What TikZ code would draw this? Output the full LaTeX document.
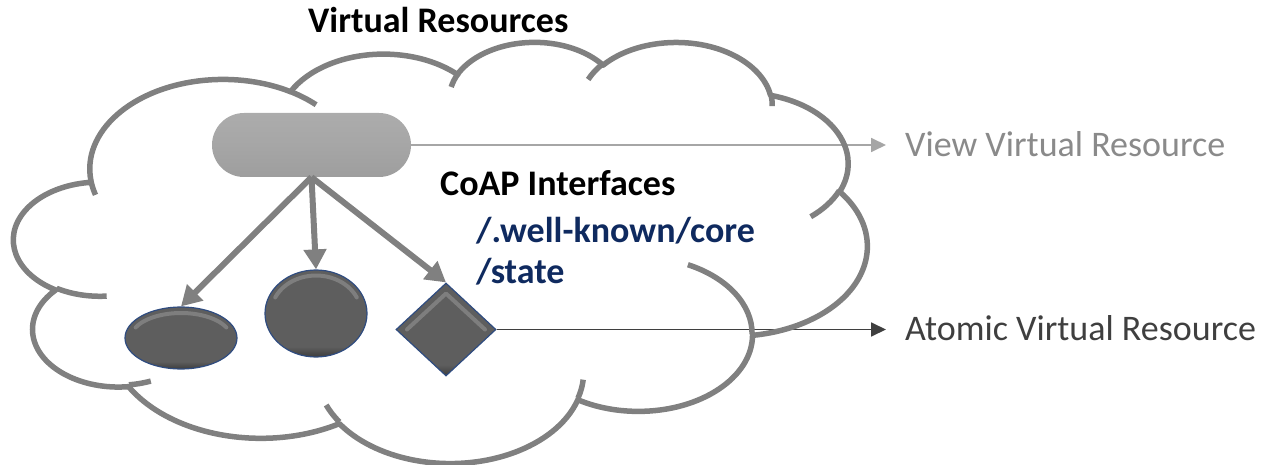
\documentclass[tikz,border=0pt]{standalone}
\usepackage{fontspec}
\setmainfont{Carlito}
\usetikzlibrary{arrows.meta,shapes.geometric}

\definecolor{cloudgray}{HTML}{808080}
\definecolor{pilltop}{HTML}{ACACAC}
\definecolor{pillmid}{HTML}{A6A6A6}
\definecolor{pillbot}{HTML}{9E9E9E}
\definecolor{bodyrim}{HTML}{3C3C3C}
\definecolor{bodymid}{HTML}{5E5E5E}
\definecolor{bodyhi}{HTML}{7E7E7E}
\definecolor{bodyedge}{HTML}{2F4C80}
\definecolor{navytext}{HTML}{0F2A5F}
\definecolor{viewgray}{HTML}{8A8A8A}
\definecolor{atomgray}{HTML}{3F3F3F}
\definecolor{viewline}{HTML}{A6A6A6}
\definecolor{arrowgray}{HTML}{808080}

% dark body: darker lower rim, flat above
\pgfdeclareverticalshading{bevelbody}{100bp}{%
  color(0bp)=(bodyrim); color(25bp)=(bodyrim); color(31bp)=(bodymid);
  color(75bp)=(bodymid); color(100bp)=(bodymid)}

% ray angle on an ellipse -> parametric angle, unwrapped next to the ray angle
\newcommand\vang[3]{atan2((#1)*sin(#3),(#2)*cos(#3))+360*round(((#3)-atan2((#1)*sin(#3),(#2)*cos(#3)))/360)}
% elliptic arc: x radius, y radius, start ray angle, sweep
\newcommand\carc[4]{arc[start angle={\vang{#1}{#2}{#3}}, end angle={\vang{#1}{#2}{(#3)+(#4)}}, x radius=#1, y radius=#2]}

\tikzset{
  cloudline/.style={draw=cloudgray, line width=5.5pt, line join=round},
  pillbox/.style={rectangle, rounded corners=32pt, minimum width=199pt, minimum height=64pt,
    inner sep=0pt, top color=pilltop, bottom color=pillbot, middle color=pillmid},
  bodyshape/.style={inner sep=0pt, draw=bodyedge, line width=1.2pt, shading=bevelbody},
  % soft bevel arc under the top edge of a rounded body
  roundglint/.style 2 args={path picture={
    \draw[bodyhi, line width=4pt, line cap=round]
      ([shift={(205:#1 and #2)}]path picture bounding box.center)
      arc[start angle=205, end angle=335, x radius=#1, y radius=#2];}},
  % soft bevel along the two upper edges of the diamond
  diaglint/.style 2 args={path picture={
    \draw[bodyhi, line width=4pt, line cap=round, line join=round]
      ([shift={(-#1+5,0)}]path picture bounding box.center)
      -- ([shift={(0,-#2+5)}]path picture bounding box.center)
      -- ([shift={(#1-5,0)}]path picture bounding box.center);}},
  fatarrow/.style={draw=arrowgray, line width=6pt, -{Triangle[length=20pt,width=22pt]}},
  thinarrow/.style={line width=1.8pt, -{Triangle[length=15pt,width=14pt]}},
  lbl/.style={inner sep=0pt, anchor=base west, font=\fontsize{36}{42}\selectfont},
  blbl/.style={inner sep=0pt, anchor=base west, font=\fontsize{36}{42}\selectfont\bfseries},
}

\begin{document}
\begin{tikzpicture}[x=1pt, y=-1pt]
\useasboundingbox (0,0) rectangle (1265,465);

% link lines out of the cloud (drawn first, the cloud outline lies on top)
\coordinate (viewtip) at (886,146);
\coordinate (atomtip) at (886,330);
\node[pillbox] (view) at (311.5,145) {};
\node[bodyshape, ellipse, minimum width=112pt, minimum height=62pt, roundglint={50}{25}] (ell) at (181,338) {};
\node[bodyshape, ellipse, minimum width=102pt, minimum height=87pt, roundglint={45}{38}] (circ) at (316,313.5) {};
\node[bodyshape, diamond, minimum width=100pt, minimum height=93pt, diaglint={44}{41}] (dia) at (446,329.5) {};

\draw[thinarrow, viewline] (view.east) -- (view.east -| viewtip);
\draw[thinarrow, atomgray] (dia.east) -- (dia.east -| atomtip);

% cloud outline (eleven elliptic lobes) and its inner tails
\begin{scope}[shift={(14pt,-41pt)}, x=1.97454pt, y=-0.97454pt]
\draw[cloudline] (39.00,143.70)
  \carc{67.53}{91.90}{-190.48748}{123.78053}
  \carc{53.33}{72.67}{-144.10238}{89.94523}
  \carc{43.65}{59.45}{-145.80792}{99.72302}
  \carc{48.57}{65.95}{-130.98607}{117.24173}
  \carc{53.33}{72.73}{-78.70888}{109.02692}
  \carc{67.75}{92.20}{-46.26725}{130.26900}
  \carc{57.85}{78.67}{0.62502}{114.03333}
  \carc{67.52}{92.15}{22.45160}{115.17255}
  \carc{77.20}{105.43}{66.24263}{75.71102}
  \carc{43.60}{59.18}{-274.94208}{146.73557}
  \carc{43.45}{59.45}{-246.82850}{152.51885}
  -- cycle;
\draw[cloudline]
  (46.93,261.77) \carc{43.45}{59.45}{86.74200}{26.42950}
  (69.28,348.99) \carc{43.60}{59.18}{73.61047}{11.44747}
  (164.78,390.90) \carc{67.52}{92.15}{137.62415}{14.08110}
  (288.27,347.51) \carc{67.52}{92.15}{6.45327}{15.99835}
  (341.29,229.54) \carc{57.85}{78.67}{-70.29235}{70.91737}
  (417.98,153.54) \carc{53.33}{72.73}{30.31803}{27.75150}
  (383.24,54.26) \carc{48.57}{65.95}{-13.74433}{14.85890}
  (290.78,39.52) \carc{48.57}{65.95}{-149.18145}{18.19537}
  (221.41,47.20) \carc{43.65}{59.45}{-163.49427}{17.68635}
  (140.00,51.92) \carc{67.53}{91.90}{-66.70695}{12.31935}
  (41.27,157.89) \carc{67.53}{91.90}{157.65435}{11.85817};
\end{scope}

% view resource and its atomic parts
\draw[fatarrow] (view.south) -- (ell.north);
\draw[fatarrow] (view.south) -- (circ.north);
\draw[fatarrow] (view.south) -- (dia.north);

% labels
\node[blbl] (title) at (308,33) {Virtual Resources};
\node[blbl] (coap) at (440,195) {CoAP Interfaces};
\node[blbl, text=navytext] (wellknown) at (476,242) {/.well-known/core};
\node[blbl, text=navytext] (state) at (476,283) {/state};
\node[lbl, text=viewgray] (viewtext) at (905,157) {View Virtual Resource};
\node[lbl, text=atomgray] (atomtext) at (905,340) {Atomic Virtual Resource};
\end{tikzpicture}
\end{document}
